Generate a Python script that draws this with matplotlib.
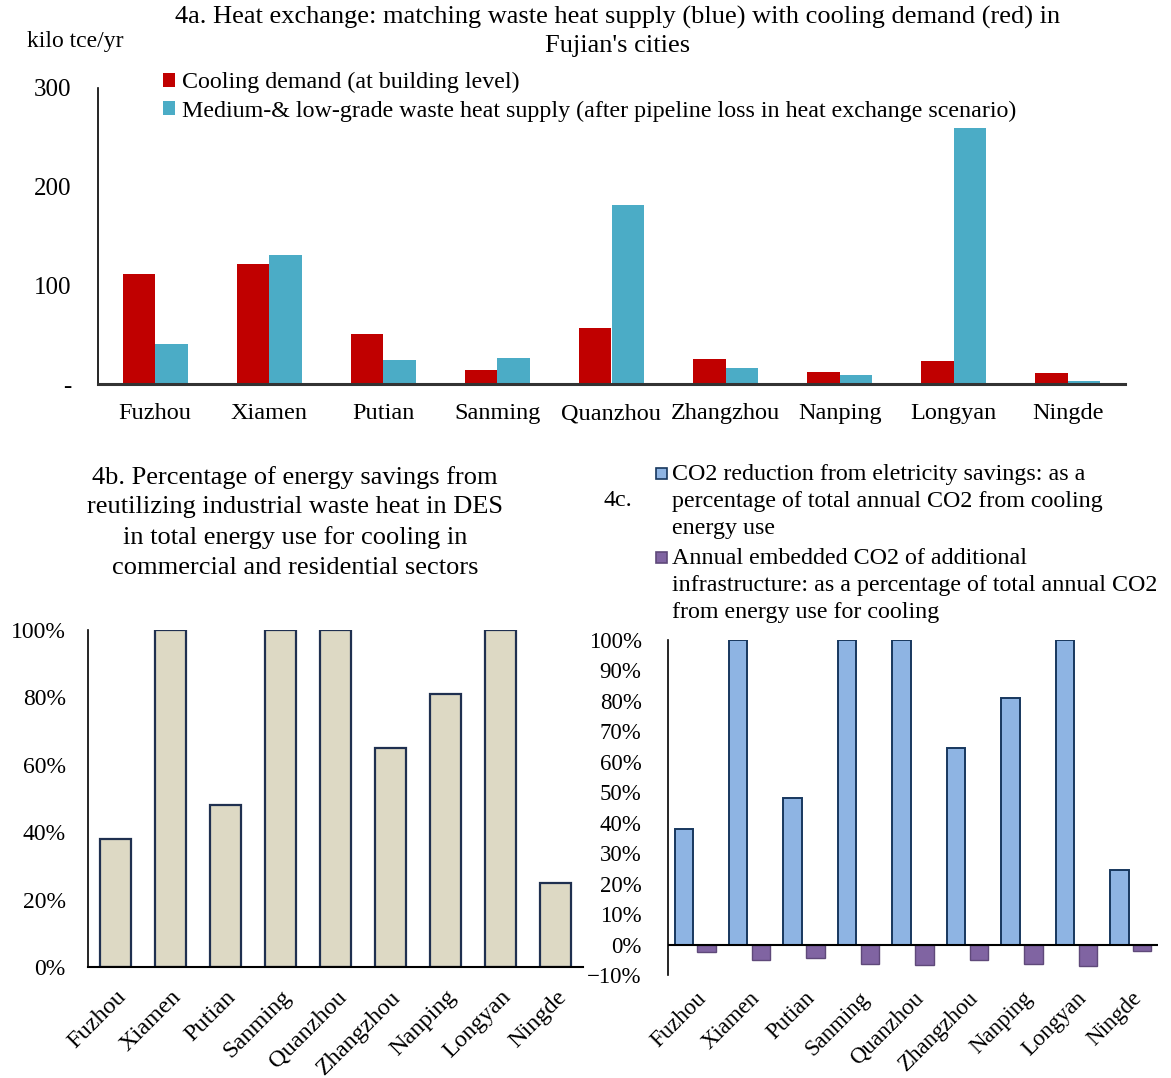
import numpy as np
import matplotlib.pyplot as plt
from matplotlib.patches import Rectangle
from matplotlib.ticker import PercentFormatter

plt.rcParams['font.family'] = ['Liberation Serif', 'DejaVu Serif']

cities = ["Fuzhou", "Xiamen", "Putian", "Sanming", "Quanzhou",
          "Zhangzhou", "Nanping", "Longyan", "Ningde"]

# 4a: kilo tce/yr
cooling_demand = [111, 122, 51, 14, 57, 25, 12, 23, 11]
waste_heat_supply = [41, 131, 24, 26, 181, 16, 9, 259, 3]

# 4b: share of cooling energy saved (%)
energy_savings_pct = [38, 100, 48, 100, 100, 65, 81, 100, 25]

# 4c: % of total annual CO2 from cooling
co2_reduction_pct = [38, 100, 48, 100, 100, 64.5, 81, 100, 24.5]
embedded_co2_pct = [-2.5, -5.0, -4.5, -6.3, -6.6, -5.0, -6.4, -6.9, -2.2]

W, H = 1171, 1078
fig = plt.figure(figsize=(W / 100, H / 100), dpi=100)


def box(left, top, right, bottom):
    # pixel box -> figure fraction rect
    return [left / W, 1 - bottom / H, (right - left) / W, (bottom - top) / H]


x = np.arange(len(cities))

# ---------------- 4a ----------------
ax_a = fig.add_axes(box(98, 88, 1125, 384))
bw = 0.285
red = ax_a.bar(x - bw / 2, cooling_demand, bw, color="#C00000")
blue = ax_a.bar(x + bw / 2, waste_heat_supply, bw, color="#4BACC6")
ax_a.set_xlim(-0.5, len(cities) - 0.5)
ax_a.set_ylim(0, 300)
ax_a.set_yticks([0, 100, 200, 300], ["-", "100", "200", "300"])
ax_a.set_xticks(x, cities)
ax_a.tick_params(axis="y", length=0, pad=19, labelsize=18)
ax_a.tick_params(axis="x", length=0, pad=14, labelsize=17.5)
for s in ("top", "right"):
    ax_a.spines[s].set_visible(False)
ax_a.spines["left"].set_linewidth(1.2)
ax_a.spines["bottom"].set_linewidth(2.2)
ax_a.spines["bottom"].set_color("#333333")

fig.text(618 / W, 1 - 6 / H,
         "4a. Heat exchange: matching waste heat supply (blue) with cooling demand (red) in\nFujian's cities",
         ha="center", va="top", fontsize=19, linespacing=1.32)
fig.text(27 / W, 1 - 42 / H, "kilo tce/yr", ha="left", va="center", fontsize=17)
ax_a.legend([red, blue],
            ["Cooling demand (at building level)",
             "Medium-& low-grade waste heat supply (after pipeline loss in heat exchange scenario)"],
            loc="upper left", bbox_to_anchor=(163 / W, 1 - 72 / H),
            bbox_transform=fig.transFigure, frameon=False, fontsize=17.3,
            handlelength=0.5, handleheight=0.5, handletextpad=0.3,
            labelspacing=0.3, borderpad=0, borderaxespad=0)

# ---------------- 4b ----------------
ax_b = fig.add_axes(box(88, 630, 583, 967))
ax_b.bar(x, np.array(energy_savings_pct) / 100, 0.56,
         color="#DDD9C4", edgecolor="#1F3050", linewidth=1.6)
ax_b.set_xlim(-0.5, len(cities) - 0.5)
ax_b.set_ylim(0, 1)
ax_b.set_yticks(np.arange(0, 1.01, 0.2))
ax_b.yaxis.set_major_formatter(PercentFormatter(1.0, decimals=0))
ax_b.set_xticks(x)
ax_b.set_xticklabels(cities, rotation=45, ha="right", rotation_mode="anchor")
ax_b.tick_params(axis="y", length=0, pad=16, labelsize=17)
ax_b.tick_params(axis="x", length=0, pad=14, labelsize=17.5)
for s in ("top", "right"):
    ax_b.spines[s].set_visible(False)
ax_b.spines["left"].set_linewidth(1.2)
ax_b.spines["bottom"].set_linewidth(1.5)

fig.text(295 / W, 1 - 466 / H,
         "4b. Percentage of energy savings from\nreutilizing industrial waste heat in DES\n"
         "in total energy use for cooling in\ncommercial and residential sectors",
         ha="center", va="top", fontsize=19, linespacing=1.44)

# ---------------- 4c ----------------
ax_c = fig.add_axes(box(668, 640, 1158, 975))
cw = 0.34
ax_c.bar(x - 0.21, np.array(co2_reduction_pct) / 100, cw,
         color="#8EB4E3", edgecolor="#17375E", linewidth=1.4)
ax_c.bar(x + 0.21, np.array(embedded_co2_pct) / 100, cw,
         color="#8064A2", edgecolor="#5F497A", linewidth=1.0)
ax_c.axhline(0, color="black", linewidth=1.5)
ax_c.set_xlim(-0.5, len(cities) - 0.5)
ax_c.set_ylim(-0.1, 1.0)
ax_c.set_yticks(np.arange(-0.1, 1.001, 0.1))
ax_c.yaxis.set_major_formatter(PercentFormatter(1.0, decimals=0))
ax_c.set_xticks(x)
ax_c.set_xticklabels(cities, rotation=45, ha="right", rotation_mode="anchor")
ax_c.tick_params(axis="y", length=0, pad=19, labelsize=16.5)
ax_c.tick_params(axis="x", length=0, pad=9, labelsize=16.5)
for s in ("top", "right", "bottom"):
    ax_c.spines[s].set_visible(False)
ax_c.spines["left"].set_linewidth(1.2)

fig.text(603 / W, 1 - 500 / H, "4c.", ha="left", va="center", fontsize=17.3)
fig.text(672 / W, 1 - 464 / H,
         "CO2 reduction from eletricity savings: as a\npercentage of total annual CO2 from cooling\nenergy use",
         ha="left", va="top", fontsize=17.3, linespacing=1.39)
fig.text(672 / W, 1 - 548 / H,
         "Annual embedded CO2 of additional\ninfrastructure: as a percentage of total annual CO2\nfrom energy use for cooling",
         ha="left", va="top", fontsize=17.3, linespacing=1.39)
fig.patches.append(Rectangle((656 / W, 1 - 479 / H), 11 / W, 11 / H,
                             transform=fig.transFigure, facecolor="#8EB4E3",
                             edgecolor="#17375E", linewidth=1.2))
fig.patches.append(Rectangle((656 / W, 1 - 563 / H), 11 / W, 11 / H,
                             transform=fig.transFigure, facecolor="#8064A2",
                             edgecolor="#5F497A", linewidth=1.2))

fig.savefig("out.png", dpi=100)
